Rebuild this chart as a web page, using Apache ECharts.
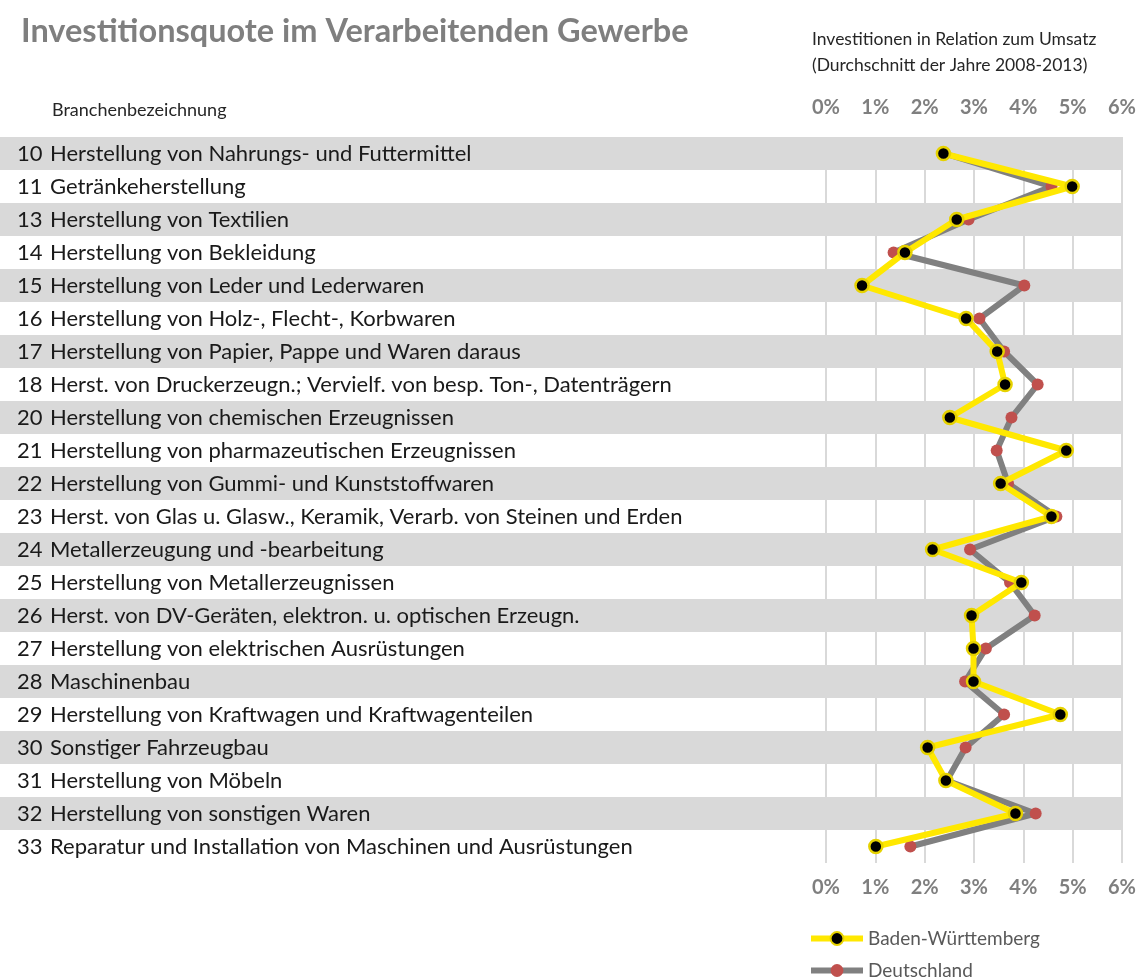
<!DOCTYPE html>
<html>
<head>
<meta charset="utf-8">
<script src="https://cdn.jsdelivr.net/npm/echarts@6/dist/echarts.min.js"></script>
<style>
    html, body { margin: 0; padding: 0; background: #fff; }
    #main { width: 1139px; height: 980px; }
</style>
</head>
<body>
<div id="main"></div>
<script>
// Branchen (WZ-Code und Bezeichnung)
var codes = ['10', '11', '13', '14', '15', '16', '17', '18', '20', '21', '22',
    '23', '24', '25', '26', '27', '28', '29', '30', '31', '32', '33'];
var names = [
    'Herstellung von Nahrungs- und Futtermittel',
    'Getränkeherstellung',
    'Herstellung von Textilien',
    'Herstellung von Bekleidung',
    'Herstellung von Leder und Lederwaren',
    'Herstellung von Holz-, Flecht-, Korbwaren',
    'Herstellung von Papier, Pappe und Waren daraus',
    'Herst. von Druckerzeugn.; Vervielf. von besp. Ton-, Datenträgern',
    'Herstellung von chemischen Erzeugnissen',
    'Herstellung von pharmazeutischen Erzeugnissen',
    'Herstellung von Gummi- und Kunststoffwaren',
    'Herst. von Glas u. Glasw., Keramik, Verarb. von Steinen und Erden',
    'Metallerzeugung und -bearbeitung',
    'Herstellung von Metallerzeugnissen',
    'Herst. von DV-Geräten, elektron. u. optischen Erzeugn.',
    'Herstellung von elektrischen Ausrüstungen',
    'Maschinenbau',
    'Herstellung von Kraftwagen und Kraftwagenteilen',
    'Sonstiger Fahrzeugbau',
    'Herstellung von Möbeln',
    'Herstellung von sonstigen Waren',
    'Reparatur und Installation von Maschinen und Ausrüstungen'
];
// Investitionsquote in %
var bwValues = [2.38, 4.99, 2.65, 1.60, 0.73, 2.84, 3.47, 3.63, 2.51, 4.87, 3.54,
    4.57, 2.16, 3.96, 2.95, 2.99, 2.99, 4.75, 2.06, 2.43, 3.84, 1.01];
var deValues = [2.40, 4.57, 2.89, 1.37, 4.02, 3.11, 3.61, 4.29, 3.76, 3.46, 3.69,
    4.67, 2.92, 3.73, 4.23, 3.24, 2.82, 3.61, 2.83, 2.45, 4.25, 1.71];
var xTicks = [0, 1, 2, 3, 4, 5, 6];

var fontName = 'Lato';
var labelData = codes.map(function (c, i) { return c + '|' + names[i]; });

function toPairs(arr) {
    return arr.map(function (v, i) { return [v, i]; });
}

var myChart = echarts.init(document.getElementById('main'));
var axisLabelStyle = {
    fontFamily: fontName,
    fontSize: 20,
    fontWeight: 'bold',
    color: '#7f7f7f',
    formatter: '{value}%'
};
var legendBase = {
    left: 803,
    itemWidth: 52, itemHeight: 16,
    lineStyle: { width: 6 },
    textStyle: { fontFamily: fontName, fontSize: 19, color: '#595959' }
};
var option = {
    animation: false,
    textStyle: { fontFamily: fontName },
    title: [
        {
            text: 'Investitionsquote im Verarbeitenden Gewerbe',
            left: 16, top: 10,
            textStyle: { fontFamily: fontName, fontSize: 32.5, fontWeight: 'bold', color: '#7f7f7f' }
        },
        {
            text: 'Branchenbezeichnung',
            left: 47, top: 96,
            textStyle: { fontFamily: fontName, fontSize: 18, fontWeight: 'normal', color: '#262626' }
        },
        {
            text: 'Investitionen in Relation zum Umsatz\n(Durchschnitt der Jahre 2008-2013)',
            left: 807, top: 21,
            textStyle: { fontFamily: fontName, fontSize: 17.5, lineHeight: 26, fontWeight: 'normal', color: '#262626' }
        }
    ],
    legend: [
        Object.assign({ top: 924, data: ['Baden-Württemberg'] }, legendBase),
        Object.assign({ top: 956, data: ['Deutschland'] }, legendBase)
    ],
    grid: [
        { left: 826, right: 17, top: 137, bottom: 117 },   // Diagramm
        { left: 0, right: 17, top: 137, bottom: 117 }      // Streifen + Beschriftung
    ],
    xAxis: [
        {
            gridIndex: 0, type: 'value', position: 'top',
            min: xTicks[0], max: xTicks[xTicks.length - 1], interval: 1,
            axisLine: { show: false }, axisTick: { show: false },
            axisLabel: Object.assign({ margin: 19 }, axisLabelStyle),
            splitLine: { show: true, lineStyle: { color: '#d9d9d9', width: 2 } },
            z: 0
        },
        {
            gridIndex: 0, type: 'value', position: 'bottom',
            min: xTicks[0], max: xTicks[xTicks.length - 1], interval: 1,
            axisLine: { show: false }, axisTick: { show: false },
            axisLabel: Object.assign({ margin: 15 }, axisLabelStyle),
            splitLine: { show: false }
        },
        {
            gridIndex: 1, type: 'value', show: false, min: 0, max: 1
        }
    ],
    yAxis: [
        {
            gridIndex: 0, type: 'category', inverse: true,
            data: codes, show: false
        },
        {
            gridIndex: 1, type: 'category', inverse: true,
            data: labelData, z: 1,
            axisLine: { show: false }, axisTick: { show: false },
            splitLine: { show: false },
            splitArea: { show: true, areaStyle: { color: ['#d9d9d9', 'rgba(0,0,0,0)'] } },
            axisLabel: {
                inside: true, margin: 17,
                formatter: function (v) {
                    var p = v.split('|');
                    return '{n|' + p[0] + '}{t|' + p[1] + '}';
                },
                rich: {
                    n: { fontFamily: fontName, fontSize: 22, color: '#1a1a1a', width: 33 },
                    t: { fontFamily: fontName, fontSize: 22, color: '#1a1a1a' }
                }
            }
        }
    ],
    series: [
        {
            name: 'Deutschland',
            type: 'line',
            xAxisIndex: 0, yAxisIndex: 0,
            data: toPairs(deValues),
            symbol: 'circle', symbolSize: 12,
            lineStyle: { color: '#808080', width: 6 },
            itemStyle: { color: '#c0504d' },
            z: 2
        },
        {
            name: 'Baden-Württemberg',
            type: 'line',
            xAxisIndex: 0, yAxisIndex: 0,
            data: toPairs(bwValues),
            symbol: 'circle', symbolSize: 13,
            lineStyle: { color: '#ffe800', width: 6 },
            itemStyle: { color: '#000000', borderColor: '#e6d200', borderWidth: 2.5 },
            z: 3
        }
    ]
};
myChart.setOption(option);
window.addEventListener('resize', function () {
    myChart.resize();
});
</script>
</body>
</html>
